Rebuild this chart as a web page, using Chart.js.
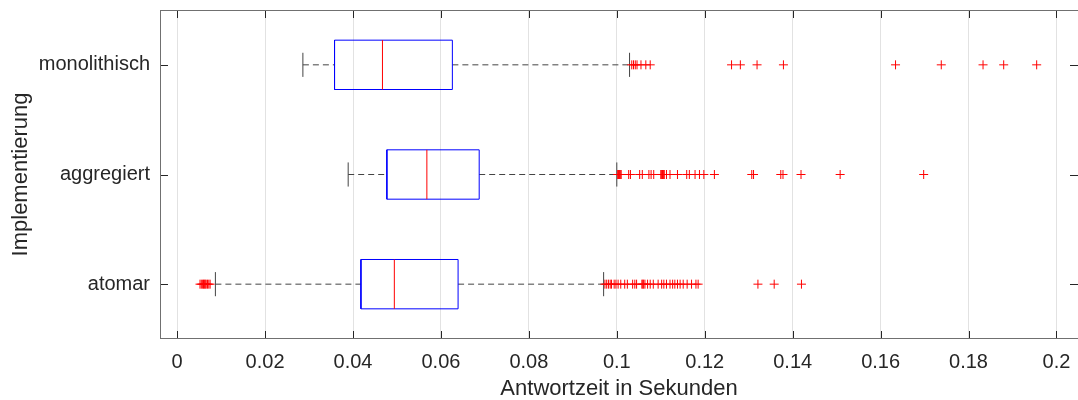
<!DOCTYPE html>
<html>
<head>
<meta charset="utf-8">
<script src="https://cdn.jsdelivr.net/npm/chart.js@4"></script>
<style>
  html, body { margin: 0; padding: 0; background: #fff; }
  canvas { display: block; }
</style>
</head>
<body>
<canvas id="myChart" width="1078" height="400"></canvas>
<script>
// Kategorien, von unten nach oben (y = 1, 2, 3)
const categories = ['atomar', 'aggregiert', 'monolithisch'];

// Boxplot-Kennwerte in Sekunden
const lowerWhisker = [0.0087, 0.0389, 0.0286];
const q1           = [0.0418, 0.0477, 0.0358];
const median       = [0.0494, 0.0568, 0.0467];
const q3           = [0.0639, 0.0687, 0.0626];
const upperWhisker = [0.0970, 0.1000, 0.1029];

// Ausreißer
const outliersAtomar = [0.0052, 0.0055, 0.0058, 0.0060, 0.0062, 0.0064, 0.0066, 0.0069, 0.0072, 0.0075,
  0.0973, 0.0977, 0.0981, 0.0985, 0.0988, 0.0994, 0.0998, 0.1003, 0.1009, 0.1018, 0.1024, 0.1036,
  0.1041, 0.1045, 0.1057, 0.1059, 0.1061, 0.1064, 0.1070, 0.1076, 0.1083, 0.1094, 0.1102, 0.1107,
  0.1113, 0.1121, 0.1127, 0.1132, 0.1138, 0.1144, 0.1151, 0.1160, 0.1170, 0.1180, 0.1185,
  0.1321, 0.1358, 0.1420];
const outliersAggregiert = [0.1002, 0.1004, 0.1006, 0.1008, 0.1010, 0.1027, 0.1031, 0.1052, 0.1058,
  0.1073, 0.1078, 0.1084, 0.1100, 0.1102, 0.1104, 0.1106, 0.1108, 0.1113, 0.1121, 0.1138, 0.1159,
  0.1165, 0.1178, 0.1188, 0.1198, 0.1222, 0.1307, 0.1311, 0.1373, 0.1378, 0.1419, 0.1508, 0.1698];
const outliersMonolithisch = [0.1034, 0.1038, 0.1042, 0.1046, 0.1055, 0.1066, 0.1076, 0.1261, 0.1281,
  0.1319, 0.1379, 0.1634, 0.1738, 0.1833, 0.1880, 0.1955];
const outliers = [outliersAtomar, outliersAggregiert, outliersMonolithisch];

// Achsenbeschriftung
const xTicks = [0, 0.02, 0.04, 0.06, 0.08, 0.1, 0.12, 0.14, 0.16, 0.18, 0.2];
const xTickLabels = ['0', '0.02', '0.04', '0.06', '0.08', '0.1', '0.12', '0.14', '0.16', '0.18', '0.2'];

const boxHalf = 0.225;   // halbe Boxhöhe in y-Einheiten
const capHalf = 0.11;    // halbe Länge der Whisker-Enden
const fontFamily = '"Liberation Sans", Arial, Helvetica, sans-serif';

const line = (data, color, extra) => Object.assign({
  data: data, showLine: true, borderColor: color, borderWidth: 1,
  pointRadius: 0, pointHoverRadius: 0, fill: false, tension: 0
}, extra || {});

const datasets = [];
categories.forEach((name, i) => {
  const y = i + 1;
  // Whisker (gestrichelt)
  datasets.push(line([{x: lowerWhisker[i], y: y}, {x: q1[i], y: y}], '#444444', {borderDash: [6, 4], order: 4}));
  datasets.push(line([{x: q3[i], y: y}, {x: upperWhisker[i], y: y}], '#444444', {borderDash: [6, 4], order: 4}));
  // Whisker-Enden
  datasets.push(line([{x: lowerWhisker[i], y: y - capHalf}, {x: lowerWhisker[i], y: y + capHalf}], '#444444', {order: 3}));
  datasets.push(line([{x: upperWhisker[i], y: y - capHalf}, {x: upperWhisker[i], y: y + capHalf}], '#444444', {order: 3}));
  // Box
  datasets.push(line([
    {x: q1[i], y: y - boxHalf}, {x: q3[i], y: y - boxHalf}, {x: q3[i], y: y + boxHalf},
    {x: q1[i], y: y + boxHalf}, {x: q1[i], y: y - boxHalf}
  ], '#0000ff', {order: 2}));
  // Median
  datasets.push(line([{x: median[i], y: y - boxHalf}, {x: median[i], y: y + boxHalf}], '#ff0000', {order: 1}));
  // Ausreißer
  datasets.push({
    data: outliers[i].map(v => ({x: v, y: y})),
    showLine: false, pointStyle: 'cross', pointRadius: 4.5, pointHoverRadius: 4.5,
    borderColor: '#ff0000', backgroundColor: '#ff0000', pointBorderWidth: 1, order: 0
  });
});

// Rahmen und nach innen zeigende Ticks wie in MATLAB
const axesFrame = {
  id: 'axesFrame',
  afterDatasetsDraw(chart) {
    const {ctx, chartArea: a, scales: {x, y}} = chart;
    const tl = 8;
    ctx.save();
    ctx.strokeStyle = '#262626';
    ctx.lineWidth = 1;
    ctx.beginPath();
    xTicks.forEach(v => {
      const px = Math.round(x.getPixelForValue(v)) + 0.5;
      ctx.moveTo(px, a.bottom); ctx.lineTo(px, a.bottom - tl);
      ctx.moveTo(px, a.top); ctx.lineTo(px, a.top + tl);
    });
    categories.forEach((c, i) => {
      const py = Math.round(y.getPixelForValue(i + 1)) + 0.5;
      ctx.moveTo(a.left, py); ctx.lineTo(a.left + tl, py);
      ctx.moveTo(a.right, py); ctx.lineTo(a.right - tl, py);
    });
    ctx.stroke();
    ctx.strokeStyle = '#707070';
    ctx.strokeRect(a.left + 0.5, a.top + 0.5, a.right - a.left, a.bottom - a.top - 1);
    ctx.restore();
  }
};

const ctx = document.getElementById('myChart').getContext('2d');
const myChart = new Chart(ctx, {
  type: 'scatter',
  data: { datasets: datasets },
  options: {
    responsive: false,
    animation: false,
    devicePixelRatio: 1,
    events: [],
    layout: { autoPadding: false, padding: { top: 10, right: 0, bottom: 0, left: 0 } },
    scales: {
      x: {
        type: 'linear',
        min: -0.0039,
        max: 0.2049,
        afterBuildTicks: s => { s.ticks = xTicks.map(v => ({value: v})); },
        afterFit: s => { s.height = 61; s.paddingLeft = 0; s.paddingRight = 0; },
        grid: { color: '#e2e2e2', drawTicks: false },
        border: { display: false },
        ticks: {
          autoSkip: false, maxRotation: 0, padding: 11,
          color: '#262626', font: { family: fontFamily, size: 20 },
          callback: (v, idx) => xTickLabels[idx]
        },
        title: {
          display: true, text: 'Antwortzeit in Sekunden', color: '#262626',
          font: { family: fontFamily, size: 22, lineHeight: 1 }, padding: { top: 0, bottom: 0 }
        }
      },
      y: {
        type: 'linear',
        min: 0.5,
        max: 3.5,
        afterBuildTicks: s => { s.ticks = categories.map((c, i) => ({value: i + 1})); },
        afterFit: s => { s.width = 160; s.paddingTop = 0; s.paddingBottom = 0; },
        grid: { display: false, drawTicks: false },
        border: { display: false },
        ticks: {
          autoSkip: false, padding: 10,
          color: '#262626', font: { family: fontFamily, size: 20 },
          callback: (v, idx) => categories[idx]
        },
        title: {
          display: true, text: 'Implementierung', color: '#262626',
          font: { family: fontFamily, size: 22 }, padding: { top: 8, bottom: 0 }
        }
      }
    },
    plugins: {
      legend: { display: false },
      tooltip: { enabled: false }
    }
  },
  plugins: [axesFrame]
});
</script>
</body>
</html>
